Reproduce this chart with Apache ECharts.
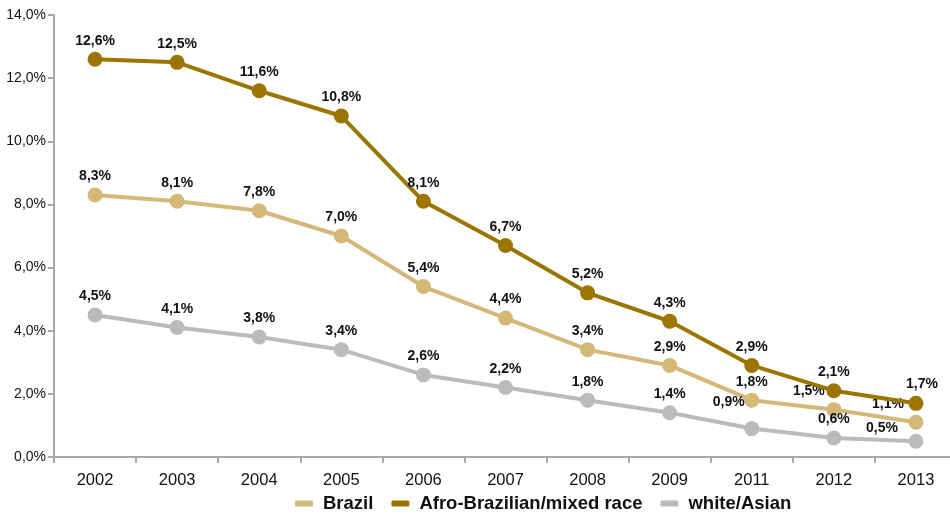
<!DOCTYPE html>
<html>
<head>
<meta charset="utf-8">
<script src="https://cdn.jsdelivr.net/npm/echarts@6/dist/echarts.min.js"></script>
<style>
  html, body { margin: 0; padding: 0; background: #fff; }
  #chart { width: 950px; height: 517px; }
</style>
</head>
<body>
<div id="chart"></div>
<script>
// Share of the population (%) per year, by group
const years = ['2002', '2003', '2004', '2005', '2006', '2007', '2008', '2009', '2011', '2012', '2013'];
const brazil = [8.3, 8.1, 7.8, 7.0, 5.4, 4.4, 3.4, 2.9, 1.8, 1.5, 1.1];
const afroBrazilian = [12.6, 12.5, 11.6, 10.8, 8.1, 6.7, 5.2, 4.3, 2.9, 2.1, 1.7];
const whiteAsian = [4.5, 4.1, 3.8, 3.4, 2.6, 2.2, 1.8, 1.4, 0.9, 0.6, 0.5];
const seriesNames = ['Brazil', 'Afro-Brazilian/mixed race', 'white/Asian'];

const colors = ['#D3B878', '#9B7500', '#BBBBBB'];

// Nudges for labels that would otherwise collide near the right end
const labelNudges = {
  0: { 9: [-25, 0], 10: [-28, 0] },
  1: { 10: [6, -1] },
  2: { 8: [-23, -8], 10: [-34, 5] }
};

const fmt = v => v.toFixed(1).replace('.', ',') + '%';

function buildData(values, si) {
  return values.map((v, i) => {
    const nudge = labelNudges[si] && labelNudges[si][i];
    return nudge ? { value: v, label: { offset: nudge } } : v;
  });
}

const chart = echarts.init(document.getElementById('chart'));
const allValues = [brazil, afroBrazilian, whiteAsian];

chart.setOption({
  animation: false,
  grid: { left: 54, top: 15, width: 903, height: 442, outerBoundsMode: 'none', containLabel: false },
  legend: {
    top: 494,
    left: 295,
    padding: 0,
    icon: 'roundRect',
    itemWidth: 18,
    itemHeight: 6,
    itemGap: 18,
    textStyle: {
      fontFamily: 'Arial, "Liberation Sans", sans-serif',
      fontWeight: 'bold',
      fontSize: 18.5,
      color: '#111',
      padding: [0, 0, 0, 5]
    },
    data: seriesNames
  },
  xAxis: {
    type: 'category',
    data: years,
    boundaryGap: true,
    axisLine: { lineStyle: { color: '#A8A8A8', width: 2 } },
    axisTick: { show: true, length: 6, lineStyle: { color: '#A8A8A8', width: 2 } },
    axisLabel: { fontFamily: 'Arial, "Liberation Sans", sans-serif', fontSize: 16.5, color: '#111', margin: 15 }
  },
  yAxis: {
    type: 'value',
    min: 0,
    max: 14,
    interval: 2,
    splitLine: { show: false },
    axisLine: { show: true, lineStyle: { color: '#A8A8A8', width: 2 } },
    axisTick: { show: true, length: 6, lineStyle: { color: '#A8A8A8', width: 2 } },
    axisLabel: {
      fontFamily: 'Arial, "Liberation Sans", sans-serif',
      fontSize: 14,
      color: '#111',
      margin: 8,
      formatter: v => fmt(v)
    }
  },
  series: allValues.map((vals, si) => ({
    name: seriesNames[si],
    type: 'line',
    data: buildData(vals, si),
    symbol: 'circle',
    symbolSize: 15,
    z: si === 1 ? 4 : 3,
    itemStyle: { color: colors[si] },
    lineStyle: { color: colors[si], width: 4 },
    label: {
      show: true,
      position: 'top',
      distance: 4,
      fontFamily: 'Arial, "Liberation Sans", sans-serif',
      fontWeight: 'bold',
      fontSize: 14,
      color: '#111',
      formatter: p => fmt(p.value)
    }
  }))
});
</script>
</body>
</html>
